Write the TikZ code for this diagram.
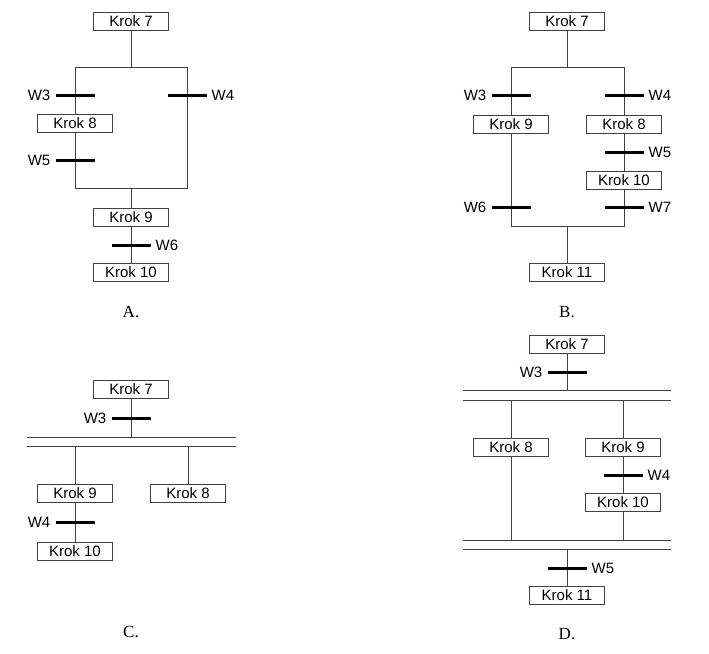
\documentclass[tikz,border=0pt]{standalone}
\usepackage{fontspec}
\setmainfont{Liberation Serif}
\setsansfont{Liberation Sans}
\begin{document}
\begin{tikzpicture}[x=1pt,y=-1pt,font=\sffamily\fontsize{15}{17}\selectfont]

	\tikzset{krok/.style={draw=black!75, line width=0.9pt, fill=white, minimum width=75pt, minimum height=18pt, inner sep=0pt}}
	\tikzset{trans/.style={fill=black, minimum width=39pt, minimum height=3pt, inner sep=0pt, outer sep=0pt}}
	\tikzset{lin/.style={draw=black!75, line width=0.9pt}}
	\tikzset{rys/.style={font=\rmfamily\fontsize{17}{19}\selectfont}}
	\tikzset{every label/.style={inner sep=2pt}}
	\tikzset{label distance=3pt}

	\useasboundingbox (0,0) rectangle (709,653);

	% A
	\node[krok] (a7) at (131,21) {Krok 7};
	\node[krok] (a8) at (75,123) {Krok 8};
	\node[krok] (a9) at (131,217) {Krok 9};
	\node[krok] (a10) at (131,272) {Krok 10};
	\coordinate (aTL) at (75,67);
	\coordinate (aTR) at (187,67);
	\coordinate (aBL) at (75,188);
	\coordinate (aBR) at (187,188);
	\draw[lin] (a7) -- (a7|-aTL);
	\draw[lin] (a8) |- (aTR) -- (aBR) -| (a8);
	\draw[lin] (a9|-aBL) -- (a9);
	\draw[lin] (a9) -- (a10);
	\node[trans, label=left:W3] (aw3) at (75,95) {};
	\node[trans, label=left:W5] (aw5) at (75,160) {};
	\node[trans, label=right:W4] (aw4) at (187,95) {};
	\node[trans, label=right:W6] (aw6) at (131,245) {};
	\node[rys] (ra) at (131,312) {A.};

	% B
	\node[krok] (b7) at (567,21) {Krok 7};
	\node[krok] (b9) at (511,124) {Krok 9};
	\node[krok] (b8) at (624,124) {Krok 8};
	\node[krok] (b10) at (624,180) {Krok 10};
	\node[krok] (b11) at (567,272) {Krok 11};
	\coordinate (bTL) at (511,67);
	\coordinate (bTR) at (624,67);
	\coordinate (bBL) at (511,226);
	\coordinate (bBR) at (624,226);
	\draw[lin] (b7) -- (b7|-bTL);
	\draw[lin] (b9) |- (bTR) -- (b8);
	\draw[lin] (b8) -- (b10);
	\draw[lin] (b9) |- (bBR) -- (b10);
	\draw[lin] (b11|-bBL) -- (b11);
	\node[trans, label=left:W3] (bw3) at (511,95) {};
	\node[trans, label=left:W6] (bw6) at (511,207) {};
	\node[trans, label=right:W4] (bw4) at (624,95) {};
	\node[trans, label=right:W5] (bw5) at (624,152) {};
	\node[trans, label=right:W7] (bw7) at (624,207) {};
	\node[rys] (rb) at (567,312) {B.};

	% C
	\node[krok] (c7) at (131,389) {Krok 7};
	\node[krok] (c9) at (75,493) {Krok 9};
	\node[krok] (c8) at (188,493) {Krok 8};
	\node[krok] (c10) at (75,551) {Krok 10};
	\coordinate (cL1) at (27,437);
	\coordinate (cR1) at (236,437);
	\coordinate (cL2) at (27,446);
	\coordinate (cR2) at (236,446);
	\draw[lin] (cL1) -- (cR1);
	\draw[lin] (cL2) -- (cR2);
	\draw[lin] (c7) -- (c7|-cL1);
	\draw[lin] (c9|-cL2) -- (c9);
	\draw[lin] (c8|-cL2) -- (c8);
	\draw[lin] (c9) -- (c10);
	\node[trans, label=left:W3] (cw3) at (131,418) {};
	\node[trans, label=left:W4] (cw4) at (75,522) {};
	\node[rys] (rc) at (131,632) {C.};

	% D
	\node[krok] (d7) at (567,344) {Krok 7};
	\node[krok] (d8) at (511,447) {Krok 8};
	\node[krok] (d9) at (623,447) {Krok 9};
	\node[krok] (d10) at (623,502) {Krok 10};
	\node[krok] (d11) at (567,595) {Krok 11};
	\coordinate (dL1) at (463,390);
	\coordinate (dR1) at (671,390);
	\coordinate (dL2) at (463,400);
	\coordinate (dR2) at (671,400);
	\coordinate (dL3) at (463,540);
	\coordinate (dR3) at (671,540);
	\coordinate (dL4) at (463,549);
	\coordinate (dR4) at (671,549);
	\draw[lin] (dL1) -- (dR1);
	\draw[lin] (dL2) -- (dR2);
	\draw[lin] (dL3) -- (dR3);
	\draw[lin] (dL4) -- (dR4);
	\draw[lin] (d7) -- (d7|-dL1);
	\draw[lin] (d8|-dL2) -- (d8);
	\draw[lin] (d9|-dL2) -- (d9);
	\draw[lin] (d9) -- (d10);
	\draw[lin] (d8) -- (d8|-dL3);
	\draw[lin] (d10) -- (d10|-dL3);
	\draw[lin] (d11|-dL4) -- (d11);
	\node[trans, label=left:W3] (dw3) at (567,372) {};
	\node[trans, label=right:W4] (dw4) at (623,475) {};
	\node[trans, label=right:W5] (dw5) at (567,568) {};
	\node[rys] (rd) at (567,634) {D.};

\end{tikzpicture}
\end{document}
